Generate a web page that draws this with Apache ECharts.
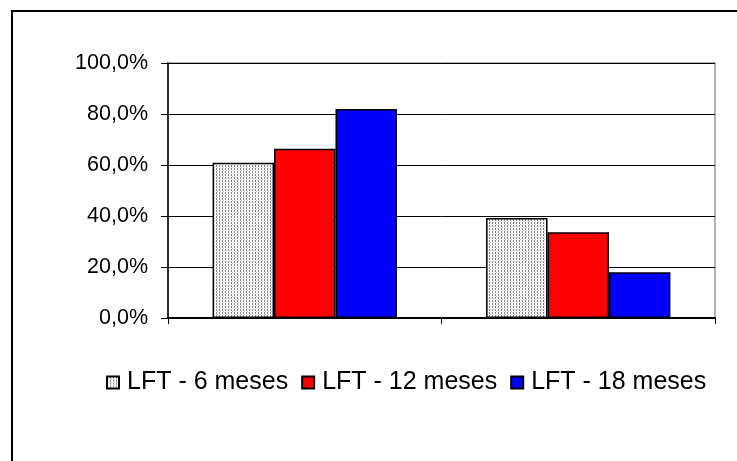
<!DOCTYPE html>
<html><head><meta charset="utf-8">
<script src="https://cdn.jsdelivr.net/npm/echarts@6/dist/echarts.min.js"></script>
<style>html,body{margin:0;padding:0;background:#fff}#c{width:737px;height:461px}</style>
</head><body><div id="c"></div>
<script>
const categories = ['Grupo 1', 'Grupo 2'];
const seriesNames = ['LFT - 6 meses', 'LFT - 12 meses', 'LFT - 18 meses'];
const lft6 = [0.609, 0.392];
const lft12 = [0.664, 0.336];
const lft18 = [0.820, 0.179];
const yTicks = [0, 0.2, 0.4, 0.6, 0.8, 1.0];

const pc = document.createElement('canvas');
pc.width = 3; pc.height = 3;
const px = pc.getContext('2d');
px.fillStyle = '#ffffff'; px.fillRect(0,0,3,3);
px.fillStyle = '#808080'; px.fillRect(0,0,1,2);
px.fillStyle = '#d0d0d0'; px.fillRect(1,2,1,1);
const pattern = {image: pc, repeat: 'repeat'};

const chart = echarts.init(document.getElementById('c'));
const font = 'Liberation Sans, Arial, sans-serif';
function bar(name, data, color) {
  return {
    name, type: 'bar', data, barGap: '0%', barCategoryGap: '32.6%',
    itemStyle: {color, borderColor: '#000', borderWidth: 1.5},
    emphasis: {disabled: true}
  };
}
chart.setOption({
  animation: false,
  graphic: [{type: 'rect', shape: {x: 12, y: 11, width: 760, height: 470},
    style: {fill: 'none', stroke: '#000', lineWidth: 2}}],
  grid: {left: 168, right: 22, top: 63, bottom: 143, show: true, borderColor: '#999', borderWidth: 1.5, backgroundColor: 'transparent'},
  legend: {
    left: 101, top: 365, itemWidth: 12, itemHeight: 12, itemGap: 13,
    textStyle: {fontFamily: font, fontSize: 25, color: '#000', padding: [0,0,0,3]},
    data: seriesNames.map((n) => ({name: n, icon: 'rect'}))
  },
  xAxis: {
    type: 'category', data: categories,
    axisLine: {lineStyle: {color: '#000', width: 2}},
    axisTick: {show: true, length: 6, lineStyle: {color: '#000', width: 1}},
    axisLabel: {show: false}
  },
  yAxis: {
    type: 'value', min: 0, max: 1, interval: 0.2,
    axisLine: {show: true, lineStyle: {color: '#000', width: 1.5}},
    axisTick: {show: true, length: 7, lineStyle: {color: '#000'}},
    splitLine: {lineStyle: {color: '#000', width: 1}},
    axisLabel: {
      fontFamily: font, fontSize: 21.5, color: '#000', margin: 20,
      formatter: (v) => (v * 100).toFixed(1).replace('.', ',') + '%'
    }
  },
  series: [
    bar(seriesNames[0], lft6, pattern),
    bar(seriesNames[1], lft12, '#ff0000'),
    bar(seriesNames[2], lft18, '#0000ff')
  ]
});
</script></body></html>
